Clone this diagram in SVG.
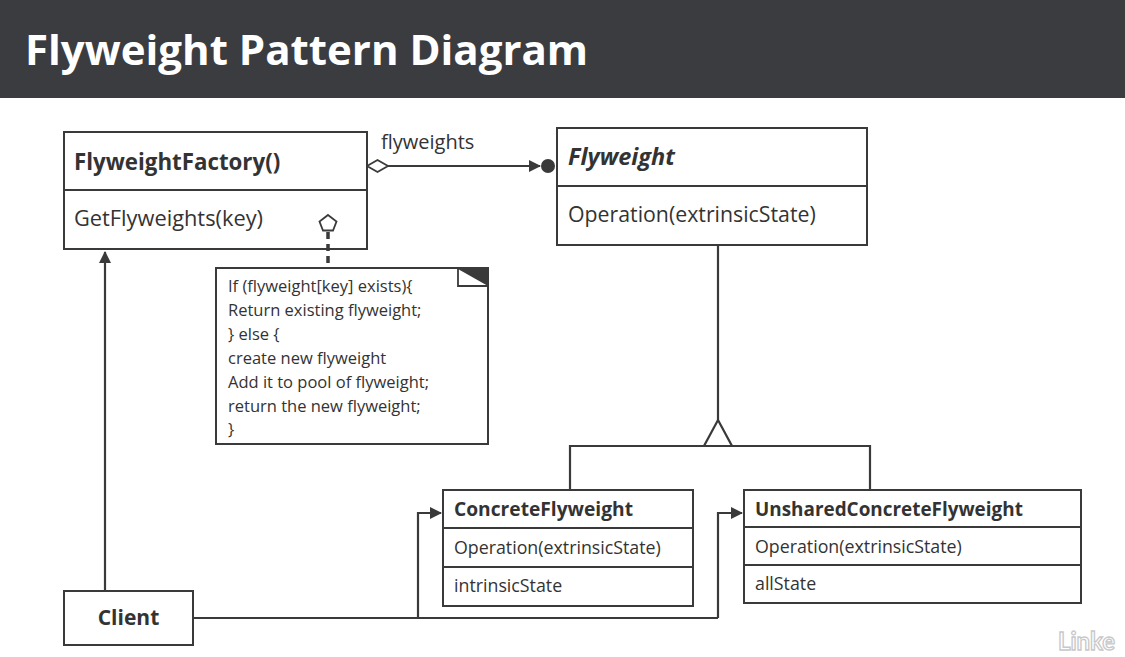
<svg xmlns="http://www.w3.org/2000/svg" width="1125" height="657" viewBox="0 0 1125 657">
<defs>
<style>
.t{font-family:"Open Sans",Lato,sans-serif;fill:#333;}
.b{font-weight:bold;}
.box{fill:#fff;stroke:#3a3a3a;stroke-width:2;}
.ln{fill:none;stroke:#3a3a3a;stroke-width:2.2;}
</style>
<marker id="arr" markerWidth="12" markerHeight="12" refX="11" refY="6" orient="auto" markerUnits="userSpaceOnUse">
<path d="M0,0 L12,6 L0,12 Z" fill="#3a3a3a"/>
</marker>
</defs>
<rect width="1125" height="657" fill="#fff"/>
<g id="header">
<rect x="0" y="0" width="1125" height="98" fill="#3b3c40"/>
<text x="25" y="65" class="t b" style="fill:#fff;font-size:42px">Flyweight Pattern Diagram</text>
</g>
<g id="connectors">
<path class="ln" d="M388,166 H540" marker-end="url(#arr)"/>
<polygon points="367,166 377.5,160 388,166 377.5,172" fill="#fff" stroke="#3a3a3a" stroke-width="1.8"/>
<circle cx="548" cy="166" r="7" fill="#3a3a3a"/>
<path class="ln" d="M718,245 V420"/>
<path class="ln" d="M570,490 V446 H870 V490"/>
<polygon points="718,420 732,446 704,446" fill="#fff" stroke="#3a3a3a" stroke-width="2.2"/>
<path class="ln" d="M105,591 V252" marker-end="url(#arr)"/>
<path class="ln" d="M193,618 H718"/>
<path class="ln" d="M418,618 V513 H441" marker-end="url(#arr)"/>
<path class="ln" d="M718,618 V513 H742" marker-end="url(#arr)"/>
</g>
<g id="factory">
<rect class="box" x="64" y="132" width="303" height="117"/>
<line x1="64" y1="190" x2="367" y2="190" stroke="#3a3a3a" stroke-width="2"/>
<text x="74" y="170" class="t b" style="font-size:22.3px">FlyweightFactory()</text>
<text x="74" y="226" class="t" style="font-size:21.8px">GetFlyweights(key)</text>
</g>
<g id="note-link">
<path d="M328,232 V268" stroke="#3a3a3a" stroke-width="3.5" stroke-dasharray="7,5" fill="none"/>
<polygon points="328,215 336.5,221.5 333,230.5 323,230.5 319.5,221.5" fill="#fff" stroke="#3a3a3a" stroke-width="1.8"/>
</g>
<g id="flyweights-label">
<text x="381" y="149" class="t" style="font-size:20px">flyweights</text>
</g>
<g id="flyweight">
<rect class="box" x="557" y="128" width="310" height="117"/>
<line x1="557" y1="186" x2="867" y2="186" stroke="#3a3a3a" stroke-width="2"/>
<text x="568" y="165" class="t b" style="font-size:23.5px;font-style:italic">Flyweight</text>
<text x="568" y="222" class="t" style="font-size:21.3px">Operation(extrinsicState)</text>
</g>
<g id="note">
<rect class="box" x="216" y="268" width="272" height="176"/>
<polygon points="458,269 488,269 488,286" fill="#3a3a3a"/>
<path d="M458,269 V286 H488" fill="none" stroke="#3a3a3a" stroke-width="1.8"/>
<text class="t" style="font-size:16.5px">
<tspan x="228" y="292">If (flyweight[key] exists){</tspan>
<tspan x="228" y="316">Return existing flyweight;</tspan>
<tspan x="228" y="340">} else {</tspan>
<tspan x="228" y="364">create new flyweight</tspan>
<tspan x="228" y="388">Add it to pool of flyweight;</tspan>
<tspan x="228" y="412">return the new flyweight;</tspan>
<tspan x="228" y="435">}</tspan>
</text>
</g>
<g id="concrete">
<rect class="box" x="443" y="490" width="250" height="116"/>
<line x1="443" y1="528" x2="693" y2="528" stroke="#3a3a3a" stroke-width="2"/>
<line x1="443" y1="567" x2="693" y2="567" stroke="#3a3a3a" stroke-width="2"/>
<text x="454" y="516" class="t b" style="font-size:19.2px">ConcreteFlyweight</text>
<text x="454" y="554" class="t" style="font-size:17.8px">Operation(extrinsicState)</text>
<text x="454" y="592" class="t" style="font-size:17.8px">intrinsicState</text>
</g>
<g id="unshared">
<rect class="box" x="744" y="490" width="337" height="113"/>
<line x1="744" y1="527" x2="1081" y2="527" stroke="#3a3a3a" stroke-width="2"/>
<line x1="744" y1="565" x2="1081" y2="565" stroke="#3a3a3a" stroke-width="2"/>
<text x="755" y="516" class="t b" style="font-size:18.9px">UnsharedConcreteFlyweight</text>
<text x="755" y="553" class="t" style="font-size:17.8px">Operation(extrinsicState)</text>
<text x="755" y="590" class="t" style="font-size:17.8px">allState</text>
</g>
<g id="client">
<rect class="box" x="64" y="591" width="129" height="54"/>
<text x="128.5" y="625" class="t b" style="font-size:21px" text-anchor="middle">Client</text>
</g>
<text x="1058" y="650" style="font-family:Lato,sans-serif;font-weight:bold;font-size:24px;fill:#fff;stroke:#c8c8c8;stroke-width:1.3">Linke</text>
</svg>
